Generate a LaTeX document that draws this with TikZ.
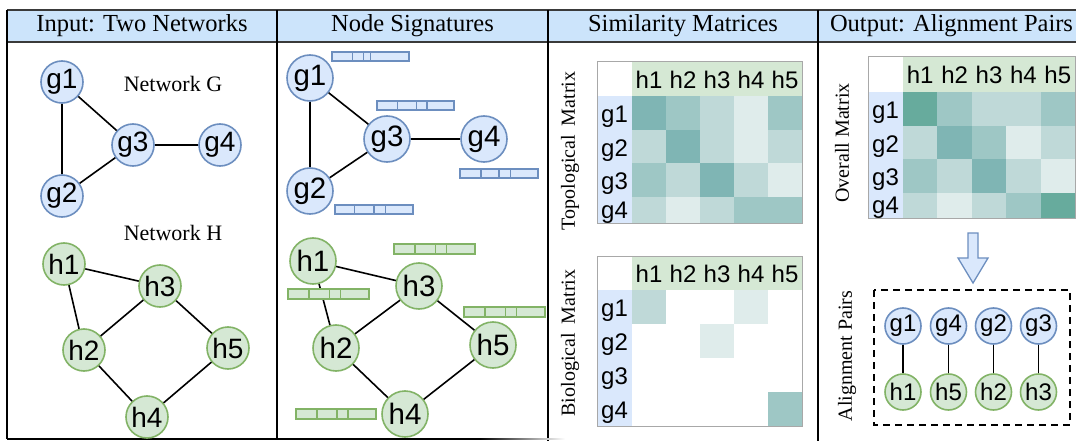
\documentclass[tikz,border=0pt]{standalone}
\usepackage{fontspec}
\setmainfont{Liberation Serif}
\newfontfamily\lsans{Liberation Sans}
\usetikzlibrary{calc}
\definecolor{hdr}{HTML}{CCE4FB}
\definecolor{hdrline}{HTML}{3A3A3A}
\definecolor{bfill}{HTML}{DAE8FC}
\definecolor{bline}{HTML}{6C8EBF}
\definecolor{gfill}{HTML}{D5E8D4}
\definecolor{gline}{HTML}{82B366}
\definecolor{mframe}{HTML}{A8A8A8}
\definecolor{c0}{HTML}{DFECEB}
\definecolor{c1}{HTML}{BFD9D8}
\definecolor{c2}{HTML}{9EC7C5}
\definecolor{c3}{HTML}{7FB5B4}
\definecolor{c4}{HTML}{67AB9D}
\newcommand\sigbar[6]{% style, x0, y0, x1, y1, fractions
  \draw[#1] (#2,#3) rectangle (#4,#5);
  \foreach \f in {#6} {\draw[#1] ($(#2,#3)!\f!(#4,#3)$) -- ($(#2,#5)!\f!(#4,#5)$);}
}
\begin{document}
\begin{tikzpicture}[x=1pt,y=-1pt,
  gn/.style={circle, draw=bline, fill=bfill, line width=1.6pt, inner sep=0pt, minimum size=42pt, font=\lsans\fontsize{28}{28}\selectfont},
  hn/.style={gn, draw=gline, fill=gfill},
  big/.style={minimum size=46pt, font=\lsans\fontsize{29.5}{29.5}\selectfont},
  small/.style={minimum size=36pt, font=\lsans\fontsize{24}{24}\selectfont},
  edge/.style={line width=1.6pt, black},
  sigb/.style={draw=bline, fill=bfill, line width=1.4pt},
  sigg/.style={draw=gline, fill=gfill, line width=1.4pt},
  hdrtext/.style={font=\fontsize{24.5}{26}\selectfont},
  netlabel/.style={font=\fontsize{22}{24}\selectfont},
  sidelabel/.style={font=\fontsize{20}{22}\selectfont, rotate=90},
  mlabel/.style={font=\lsans\fontsize{24}{24}\selectfont, inner sep=0pt},
  divider/.style={line width=1.8pt, black}
]
\useasboundingbox (0,0) rectangle (1076,441);
\fill[white] (0,0) rectangle (1076,441);

% ---------- header ----------
\fill[hdr] (7,10) rectangle (1076,42);
\draw[hdrline, line width=1.8pt] (7,10) -- (1076,10);
\draw[hdrline, line width=1.8pt] (7,42) -- (1076,42);
\node[hdrtext] (t1) at (142,26) {Input: Two Networks};
\node[hdrtext] (t2) at (412.5,26) {Node Signatures};
\node[hdrtext] (t3) at (683,26) {Similarity Matrices};
\node[hdrtext] (t4) at (951.5,26) {Output: Alignment Pairs};

% ---------- frame ----------
\draw[divider] (7,10) -- (7,439);
\draw[divider] (277,10) -- (277,439);
\draw[divider] (548,10) -- (548,441);
\draw[divider] (818,10) -- (818,441);
\draw[divider] (7,439) -- (480,439);
\shade[left color=black, right color=white] (480,438.1) rectangle (565,439.9);

% ---------- panel 1 ----------
\node[netlabel] (ng) at (173,84) {Network G};
\node[netlabel] (nh) at (173,233) {Network H};
\node[gn] (a1) at (62,82) {g1};
\node[gn] (a2) at (62,196) {g2};
\node[gn] (a3) at (133,145) {g3};
\node[gn] (a4) at (220,145) {g4};
\draw[edge] (a1) -- (a2);
\draw[edge] (a1) -- (a3);
\draw[edge] (a2) -- (a3);
\draw[edge] (a3) -- (a4);
\node[hn] (b1) at (64,264) {h1};
\node[hn] (b3) at (160,286) {h3};
\node[hn] (b2) at (84,350) {h2};
\node[hn] (b5) at (228,348) {h5};
\node[hn] (b4) at (147,417) {h4};
\draw[edge] (b1) -- (b3);
\draw[edge] (b1) -- (b2);
\draw[edge] (b2) -- (b3);
\draw[edge] (b3) -- (b5);
\draw[edge] (b2) -- (b4);
\draw[edge] (b4) -- (b5);

% ---------- panel 2 ----------
\node[gn,big] (c1) at (310,78) {g1};
\node[gn,big] (c2) at (310,191) {g2};
\node[gn,big] (c3) at (387,139) {g3};
\node[gn,big] (c4) at (484,139) {g4};
\draw[edge] (c1) -- (c2);
\draw[edge] (c1) -- (c3);
\draw[edge] (c2) -- (c3);
\draw[edge] (c3) -- (c4);
\sigbar{sigb}{332}{52}{409}{61}{0.27,0.41,0.5}
\sigbar{sigb}{377}{101}{454}{110}{0.27,0.51,0.65}
\sigbar{sigb}{460}{169}{538}{178}{0.27,0.5,0.65}
\sigbar{sigb}{335}{205}{413}{214}{0.25,0.5,0.65}
\node[hn,big] (d1) at (313,261) {h1};
\node[hn,big] (d3) at (419,286) {h3};
\node[hn,big] (d2) at (336,348) {h2};
\node[hn,big] (d5) at (493,345) {h5};
\node[hn,big] (d4) at (405,414) {h4};
\draw[edge] (d1) -- (d3);
\draw[edge] (d1) -- (d2);
\draw[edge] (d2) -- (d3);
\draw[edge] (d3) -- (d5);
\draw[edge] (d2) -- (d4);
\draw[edge] (d4) -- (d5);
\sigbar{sigg}{394}{244}{475}{254}{0.26,0.51,0.65}
\sigbar{sigg}{288}{289}{369}{299}{0.26,0.51,0.65}
\sigbar{sigg}{464}{307}{545}{317}{0.26,0.51,0.65}
\sigbar{sigg}{296}{409}{376}{419}{0.26,0.51,0.65}

% ---------- panel 3: topological matrix ----------
\node[sidelabel] (lt) at (570,151) {Topological\hspace{4pt} Matrix};
\begin{scope}
\clip (597,62) rectangle (802,223);
\fill[gfill] (632,62) rectangle (802,96);
\fill[bfill] (597,96) rectangle (632,223);
\foreach \r/\c/\col in {1/1/c3,1/2/c2,1/3/c1,1/4/c0,1/5/c2,
                        2/1/c1,2/2/c3,2/3/c1,2/4/c0,2/5/c1,
                        3/1/c2,3/2/c1,3/3/c3,3/4/c1,3/5/c0,
                        4/1/c1,4/2/c0,4/3/c1,4/4/c2,4/5/c2}
  \fill[\col] ({632+34*(\c-1)},{96+33.7*(\r-1)}) rectangle ({632+34*\c},{96+33.7*\r});
\end{scope}
\draw[mframe, line width=1pt] (597,62) rectangle (802,223);
\foreach \c in {1,...,5} \node[mlabel] (th\c) at ({649+34*(\c-1)},80) {h\c};
\node[mlabel] (tg1) at (614.5,117) {g1};
\node[mlabel] (tg2) at (614.5,151) {g2};
\node[mlabel] (tg3) at (614.5,184) {g3};
\node[mlabel] (tg4) at (614.5,213) {g4};

% ---------- panel 3: biological matrix ----------
\node[sidelabel] (lb) at (570,343) {Biological\hspace{4pt} Matrix};
\fill[gfill] (632,256) rectangle (802,290);
\fill[bfill] (597,290) rectangle (632,426);
\foreach \r/\c/\col in {1/1/c1,1/4/c0,2/3/c0,4/5/c2}
  \fill[\col] ({632+34*(\c-1)},{290+34*(\r-1)}) rectangle ({632+34*\c},{290+34*\r});
\draw[mframe, line width=1pt] (597,256) rectangle (802,426);
\foreach \c in {1,...,5} \node[mlabel] (bh\c) at ({649+34*(\c-1)},274) {h\c};
\foreach \r in {1,...,4} \node[mlabel] (bg\r) at (614.5,{311+34*(\r-1)}) {g\r};

% ---------- panel 4: overall matrix ----------
\node[sidelabel] (lo) at (842,143) {Overall Matrix};
\begin{scope}
\clip (868,57) rectangle (1075,218);
\fill[gfill] (903,57) rectangle (1075,92);
\fill[bfill] (868,92) rectangle (903,218);
\foreach \r/\c/\col in {1/1/c4,1/2/c2,1/3/c1,1/4/c1,1/5/c2,
                        2/1/c1,2/2/c3,2/3/c2,2/4/c0,2/5/c1,
                        3/1/c2,3/2/c1,3/3/c3,3/4/c1,3/5/c0,
                        4/1/c1,4/2/c0,4/3/c1,4/4/c2,4/5/c4}
  \fill[\col] ({903+34.4*(\c-1)},{92+33.7*(\r-1)}) rectangle ({903+34.4*\c},{92+33.7*\r});
\end{scope}
\draw[mframe, line width=1pt] (868,57) rectangle (1075,218);
\foreach \c in {1,...,5} \node[mlabel] (oh\c) at ({920.2+34.4*(\c-1)},75) {h\c};
\node[mlabel] (og1) at (885.5,113) {g1};
\node[mlabel] (og2) at (885.5,147) {g2};
\node[mlabel] (og3) at (885.5,180) {g3};
\node[mlabel] (og4) at (885.5,208) {g4};

% arrow
\draw[bline, fill=bfill, line width=1.3pt, line join=miter]
  (968,233) -- (978,233) -- (978,258) -- (988,258) -- (973,283) -- (958,258) -- (968,258) -- cycle;

% alignment pairs
\node[sidelabel] (la) at (847,356) {Alignment Pairs};
\draw[black, line width=1.6pt, dash pattern=on 7pt off 5pt] (874,290) rectangle (1070,425);
\node[gn,small] (p1) at (903,326) {g1};
\node[gn,small] (p2) at (948.5,326) {g4};
\node[gn,small] (p3) at (993.5,326) {g2};
\node[gn,small] (p4) at (1038.5,326) {g3};
\node[hn,small] (q1) at (903,392) {h1};
\node[hn,small] (q2) at (948.5,392) {h5};
\node[hn,small] (q3) at (993.5,392) {h2};
\node[hn,small] (q4) at (1038.5,392) {h3};
\foreach \i in {1,...,4} \draw[edge] (p\i) -- (q\i);
\end{tikzpicture}
\end{document}
